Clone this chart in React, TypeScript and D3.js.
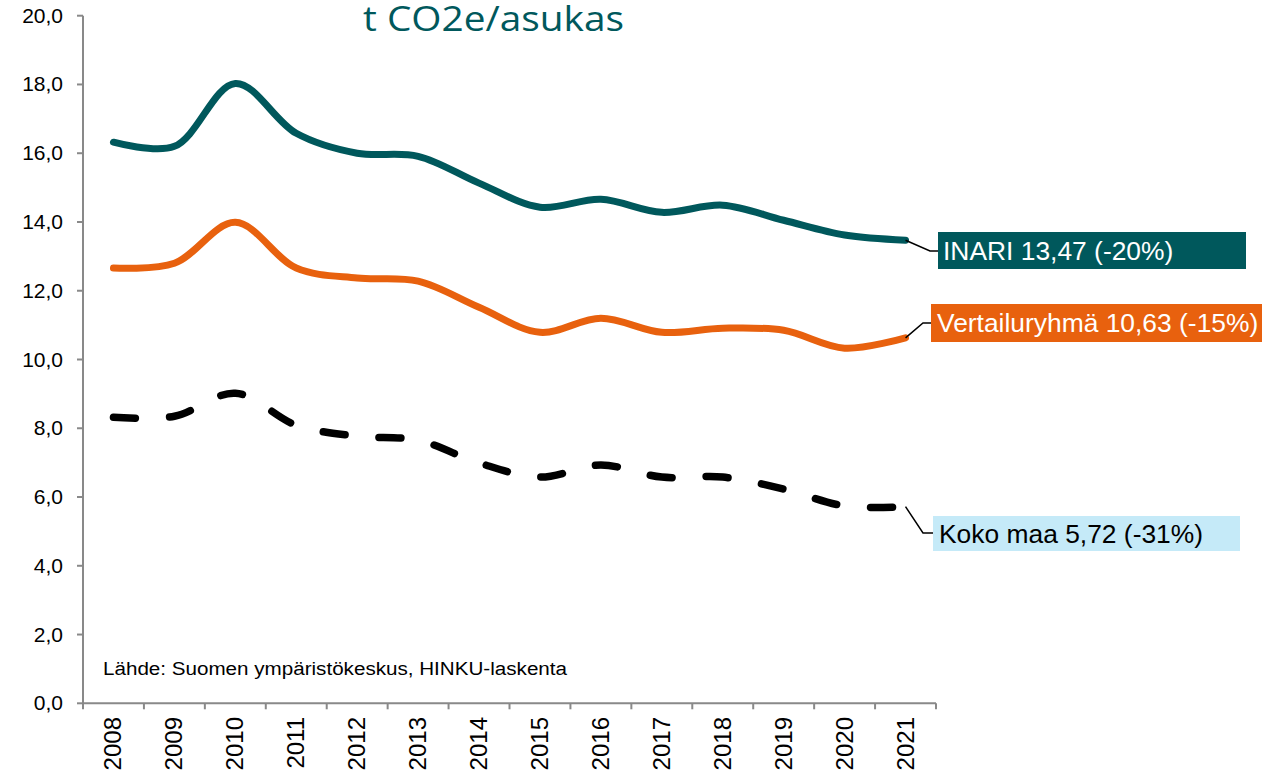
import React from "react";
import * as d3 from "d3";

const years = ["2008","2009","2010","2011","2012","2013","2014","2015","2016","2017","2018","2019","2020","2021"];
const inari = [16.32, 16.2, 18.03, 16.58, 16.0, 15.91, 15.13, 14.43, 14.66, 14.28, 14.49, 14.05, 13.62, 13.47];
const vertailu = [12.66, 12.8, 13.99, 12.66, 12.37, 12.28, 11.52, 10.79, 11.2, 10.79, 10.91, 10.85, 10.33, 10.63];
const kokoMaa = [8.32, 8.35, 9.02, 8.09, 7.77, 7.65, 6.99, 6.58, 6.93, 6.58, 6.58, 6.23, 5.74, 5.72];
const yTicks = [0, 2, 4, 6, 8, 10, 12, 14, 16, 18, 20];
const labels = ["INARI 13,47 (-20%)", "Vertailuryhmä 10,63 (-15%)", "Koko maa 5,72 (-31%)"];
const title = "t CO2e/asukas";
const source = "Lähde: Suomen ympäristökeskus, HINKU-laskenta";

const W = 1270, H = 780;
const left = 83, right = 936, top = 15.7, bottom = 703.3;

export default function App() {
  const x = d3.scaleBand<string>().domain(years).range([left, right]).padding(0);
  const y = d3.scaleLinear().domain([0, 20]).range([bottom, top]);
  const cx = (i: number) => (x(years[i]) as number) + x.bandwidth() / 2;
  const line = d3.line<number>().x((_, i) => cx(i)).y(d => y(d)).curve(d3.curveCatmullRom.alpha(0.5));
  const fmt = (v: number) => v.toFixed(1).replace(".", ",");
  const bounds = d3.range(years.length + 1).map(i => left + i * x.bandwidth());
  const last = years.length - 1;
  const ex = cx(last);
  const axisColor = "#898989";
  const font = "'Liberation Sans', Arial, sans-serif";

  return (
    <svg width={W} height={H} style={{ position: "absolute", left: 0, top: 0 }}>
      <rect x={0} y={0} width={W} height={H} fill="#fff" />
      <text x={363} y={31} fontFamily="'Open Sans', sans-serif" fontSize={35} fill="#00585C" textLength={261} lengthAdjust="spacingAndGlyphs">{title}</text>
      {/* y axis */}
      <line x1={left} x2={left} y1={top} y2={bottom} stroke={axisColor} strokeWidth={2} />
      {yTicks.map(t => (
        <g key={t}>
          <line x1={left - 6} x2={left} y1={y(t)} y2={y(t)} stroke={axisColor} strokeWidth={2} />
          <text x={63} y={y(t) + 7} textAnchor="end" fontFamily={font} fontSize={21} fill="#000">{fmt(t)}</text>
        </g>
      ))}
      {/* x axis */}
      <line x1={left} x2={right} y1={bottom} y2={bottom} stroke={axisColor} strokeWidth={2} />
      {bounds.map((b, i) => (
        <line key={i} x1={b} x2={b} y1={bottom} y2={bottom + 6} stroke={axisColor} strokeWidth={2} />
      ))}
      {years.map((yr, i) => (
        <text key={yr} transform={`translate(${cx(i) + 8},${717}) rotate(-90)`} textAnchor="end" fontFamily={font} fontSize={24} fill="#000">{yr}</text>
      ))}
      <text x={103} y={675} fontFamily={font} fontSize={18} fill="#000" textLength={464} lengthAdjust="spacingAndGlyphs">{source}</text>
      {/* lines */}
      <path d={line(kokoMaa) || ""} fill="none" stroke="#000" strokeWidth={7.5} strokeLinecap="round" strokeDasharray="22 34" />
      <path d={line(vertailu) || ""} fill="none" stroke="#E8610E" strokeWidth={7} strokeLinecap="round" />
      <path d={line(inari) || ""} fill="none" stroke="#00585C" strokeWidth={7} strokeLinecap="round" />
      {/* leaders */}
      <polyline points={`${ex},${y(inari[last])} ${930},${251} ${938},${251}`} fill="none" stroke="#000" strokeWidth={1.5} />
      <polyline points={`${ex},${y(vertailu[last])} ${923},${323} ${931},${323}`} fill="none" stroke="#000" strokeWidth={1.5} />
      <polyline points={`${ex},${y(kokoMaa[last])} ${923},${533} ${933},${533}`} fill="none" stroke="#000" strokeWidth={1.5} />
      {/* label boxes */}
      <rect x={938} y={232} width={308} height={37} fill="#00585C" />
      <text x={943} y={260} fontFamily={font} fontSize={26.4} fill="#fff">{labels[0]}</text>
      <rect x={931} y={304} width={331} height={38} fill="#E8610E" />
      <text x={937} y={332} fontFamily={font} fontSize={26.4} fill="#fff">{labels[1]}</text>
      <rect x={933} y={516} width={307} height={35} fill="#C5EAF8" />
      <text x={939} y={543} fontFamily={font} fontSize={26.4} fill="#000">{labels[2]}</text>
    </svg>
  );
}
